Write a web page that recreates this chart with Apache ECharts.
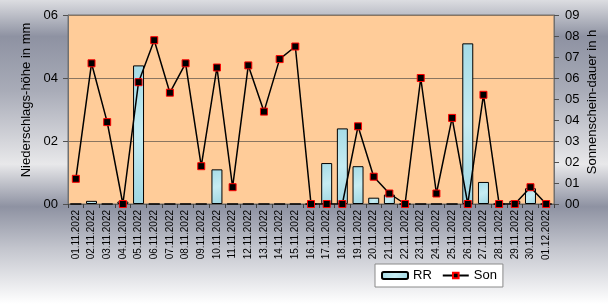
<!DOCTYPE html>
<html>
<head>
<meta charset="utf-8">
<script src="https://cdn.jsdelivr.net/npm/echarts@6/dist/echarts.min.js"></script>
<style>
html,body{margin:0;padding:0;}
#c{width:608px;height:304px;background:linear-gradient(to bottom,#dcdde1 0%,#8e92a2 12%,#a9acb8 30%,#e8e8ea 54%,#8e92a2 68%,#c4c6ce 82%,#ffffff 100%);}
</style>
</head>
<body>
<div id="c"></div>
<script>
var categories = ['01.11.2022','02.11.2022','03.11.2022','04.11.2022','05.11.2022','06.11.2022','07.11.2022','08.11.2022','09.11.2022','10.11.2022','11.11.2022','12.11.2022','13.11.2022','14.11.2022','15.11.2022','16.11.2022','17.11.2022','18.11.2022','19.11.2022','20.11.2022','21.11.2022','22.11.2022','23.11.2022','24.11.2022','25.11.2022','26.11.2022','27.11.2022','28.11.2022','29.11.2022','30.11.2022','01.12.2022'];
var rrValues = [0,0.1,0,0.08,4.4,0,0,0,0,1.1,0,0,0,0,0,0,1.3,2.4,1.2,0.2,0.3,0,0,0,0,5.1,0.7,0,0.1,0.5,0];
var sonValues = [1.2,6.7,3.9,0,5.8,7.8,5.3,6.7,1.8,6.5,0.8,6.6,4.4,6.9,7.5,0,0,0,3.7,1.3,0.5,0,6.0,0.5,4.1,0,5.2,0,0,0.8,0];
var leftTicks = ['00','02','04','06'];
var rightTicks = ['00','01','02','03','04','05','06','07','08','09'];

var chart = echarts.init(document.getElementById('c'), null, {renderer:'canvas'});
var font = 'Liberation Sans, Arial, sans-serif';
chart.setOption({
  backgroundColor: 'transparent',
  textStyle: {fontFamily: font},
  animation: false,
  grid: {left: 68, right: 54, top: 15, bottom: 100, show: true, backgroundColor: '#ffcc99', borderColor: '#707070', borderWidth: 1},
  legend: {
    left: 375, top: 264, width: 122,
    backgroundColor: '#ffffff', borderColor: '#8a8a8a', borderWidth: 1,
    padding: [5, 6], itemGap: 10, itemWidth: 26, itemHeight: 7,
    textStyle: {fontSize: 13, color: '#000', fontFamily: font},
    data: ['RR', 'Son']
  },
  xAxis: {
    type: 'category', data: categories, boundaryGap: true,
    axisLine: {lineStyle: {color: '#606060', width: 1}},
    axisTick: {show: true, alignWithLabel: false, length: 4, lineStyle: {color: '#404040'}},
    axisLabel: {interval: 0, rotate: 90, fontSize: 10, color: '#000', margin: 6, fontFamily: font}
  },
  yAxis: [
    {
      type: 'value', min: 0, max: 6, interval: 2, position: 'left',
      axisLine: {show: true, lineStyle: {color: '#707070'}},
      axisTick: {show: true, length: 5, lineStyle: {color: '#505050'}},
      axisLabel: {fontSize: 13, color: '#000', margin: 10, fontFamily: font,
        formatter: function (v) { return leftTicks[Math.round(v / 2)]; }},
      splitLine: {show: true, lineStyle: {color: '#8a7560', width: 1.2}}
    },
    {
      type: 'value', min: 0, max: 9, interval: 1, position: 'right',
      axisLine: {show: true, lineStyle: {color: '#707070'}},
      axisTick: {show: true, length: 5, lineStyle: {color: '#505050'}},
      axisLabel: {fontSize: 13, color: '#000', margin: 11, fontFamily: font,
        formatter: function (v) { return rightTicks[Math.round(v)]; }},
      splitLine: {show: false}
    }
  ],
  graphic: [
    {type: 'text', rotation: Math.PI / 2,
      style: {text: 'Niederschlags-höhe in mm', fill: '#000', font: '13px ' + font, textAlign: 'center', textVerticalAlign: 'middle'},
      x: 26, y: 100},
    {type: 'text', rotation: Math.PI / 2,
      style: {text: 'Sonnenschein-dauer in h', fill: '#000', font: '13px ' + font, textAlign: 'center', textVerticalAlign: 'middle'},
      x: 592, y: 102}
  ],
  series: [
    {
      name: 'RR', type: 'bar', yAxisIndex: 0, data: rrValues, barWidth: '70%',
      itemStyle: {
        color: {type: 'linear', x: 0, y: 0, x2: 1, y2: 1, colorStops: [
          {offset: 0, color: '#a5dbe6'}, {offset: 0.5, color: '#c6ecf2'}, {offset: 1, color: '#9fd6e2'}]},
        borderColor: '#000', borderWidth: 1
      }
    },
    {
      name: 'Son', type: 'line', yAxisIndex: 1, data: sonValues,
      lineStyle: {color: '#000', width: 1.5},
      symbol: 'rect', symbolSize: 7,
      itemStyle: {color: '#000', borderColor: '#ff0000', borderWidth: 1}
    }
  ]
});
</script>
</body>
</html>
